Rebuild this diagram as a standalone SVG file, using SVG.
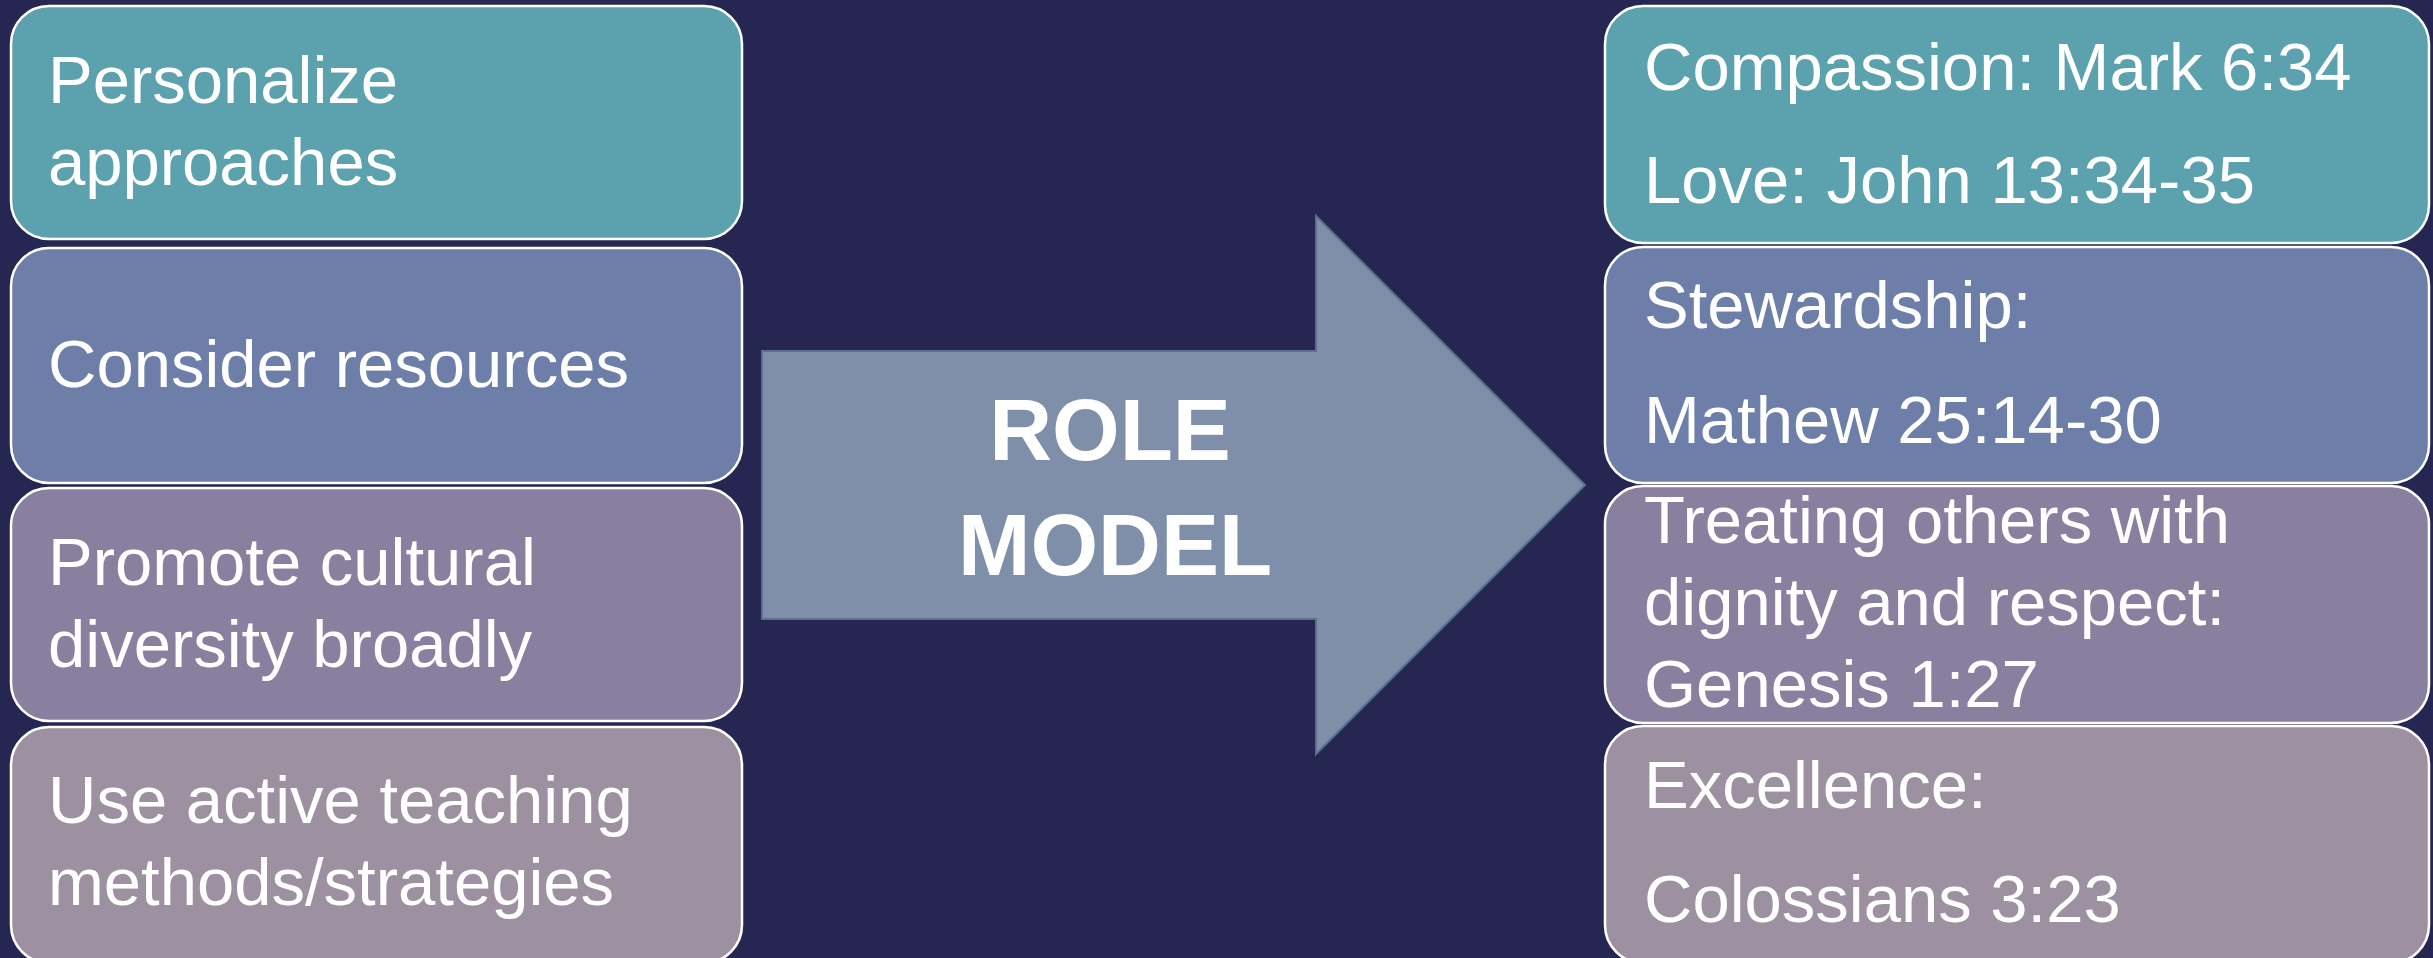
<svg xmlns="http://www.w3.org/2000/svg" width="2433" height="958" viewBox="0 0 2433 958">
<style>
.box{stroke:#ffffff;stroke-width:2.5}
.t{font-family:"Liberation Sans",Arial,sans-serif;font-size:67px;fill:#ffffff}
.b{font-family:"Liberation Sans",Arial,sans-serif;font-size:87px;font-weight:bold;fill:#ffffff;text-anchor:middle}
</style>
<rect x="0" y="0" width="2433" height="958" fill="#252651"/>
<g id="left1"><rect class="box" x="11" y="6" width="731" height="233" rx="38" fill="#5ba2ae"/>
<text class="t" x="48" y="103">Personalize</text><text class="t" x="48" y="185">approaches</text></g>
<g id="left2"><rect class="box" x="11" y="248" width="731" height="235" rx="38" fill="#6d7fa8"/>
<text class="t" x="48" y="387">Consider resources</text></g>
<g id="left3"><rect class="box" x="11" y="488" width="731" height="233" rx="38" fill="#8980a0"/>
<text class="t" x="48" y="585">Promote cultural</text><text class="t" x="48" y="667">diversity broadly</text></g>
<g id="left4"><rect class="box" x="11" y="727" width="731" height="236" rx="38" fill="#9d90a1"/>
<text class="t" x="48" y="823">Use active teaching</text><text class="t" x="48" y="905">methods/strategies</text></g>
<g id="arrow"><polygon points="762,351 1316,351 1316,216 1585,485 1316,754 1316,619 762,619" fill="#7f8fa9" stroke="#5e6f8d" stroke-width="2"/>
<text class="b" x="1110" y="460">ROLE</text><text class="b" x="1115" y="575">MODEL</text></g>
<g id="right1"><rect class="box" x="1605" y="6" width="824" height="237" rx="38" fill="#5ba2ae"/>
<text class="t" x="1644" y="90">Compassion: Mark 6:34</text><text class="t" x="1644" y="203">Love: John 13:34-35</text></g>
<g id="right2"><rect class="box" x="1605" y="247" width="824" height="236" rx="38" fill="#6d7fa8"/>
<text class="t" x="1644" y="328">Stewardship:</text><text class="t" x="1644" y="443">Mathew 25:14-30</text></g>
<g id="right3"><rect class="box" x="1605" y="486" width="824" height="237" rx="38" fill="#8980a0"/>
<text class="t" x="1644" y="543">Treating others with</text><text class="t" x="1644" y="625">dignity and respect:</text><text class="t" x="1644" y="707">Genesis 1:27</text></g>
<g id="right4"><rect class="box" x="1605" y="726" width="824" height="237" rx="38" fill="#9d90a1"/>
<text class="t" x="1644" y="808">Excellence:</text><text class="t" x="1644" y="922">Colossians 3:23</text></g>
<g id="connectors"></g>
</svg>
